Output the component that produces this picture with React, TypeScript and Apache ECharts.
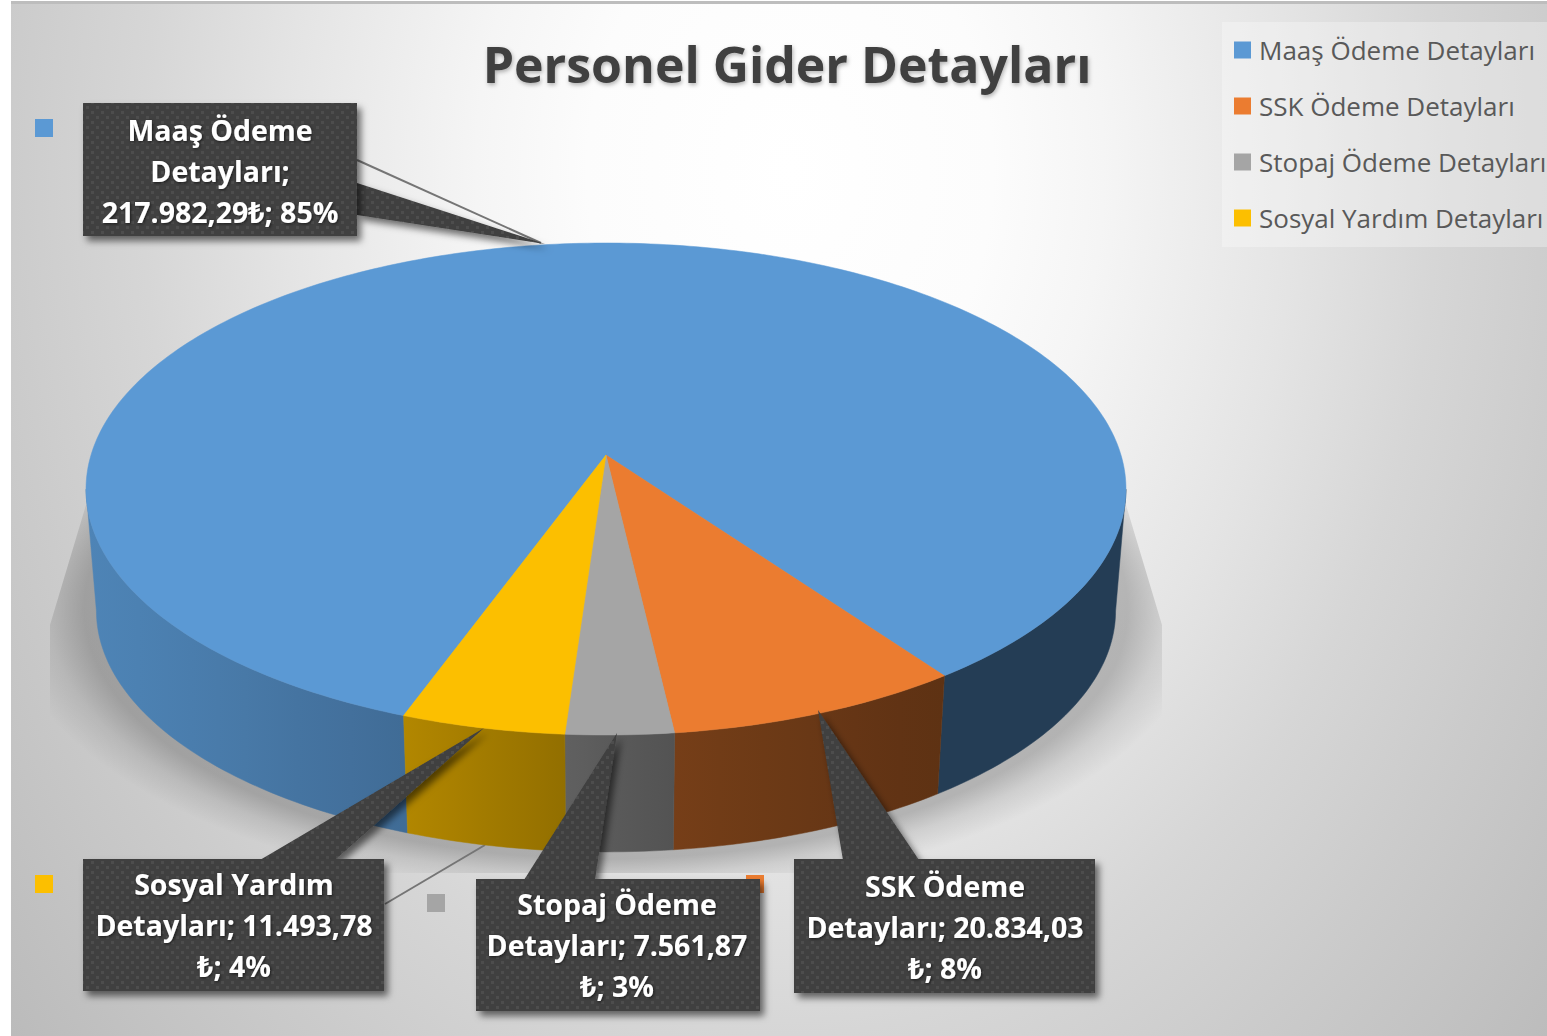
import React, { useEffect, useRef } from "react";
import * as echarts from "echarts";

const titleText = "Personel Gider Detayları";
const categories = ["Maaş Ödeme Detayları", "SSK Ödeme Detayları", "Stopaj Ödeme Detayları", "Sosyal Yardım Detayları"];
const values = [217982.29, 20834.03, 7561.87, 11493.78];
const labelLines = [
  ["Maaş Ödeme", "Detayları;", "217.982,29₺; 85%"],
  ["SSK Ödeme", "Detayları; 20.834,03", "₺; 8%"],
  ["Stopaj Ödeme", "Detayları; 7.561,87", "₺; 3%"],
  ["Sosyal Yardım", "Detayları; 11.493,78", "₺; 4%"],
];
const colors = ["#5B99D4", "#EB7C30", "#A5A5A5", "#FCBF00"];

const W = 1547;
const H = 1036;
const FONT = '"Open Sans", "Noto Sans", sans-serif';

// projection of the tilted disc
const CX = 606;
const A = 515;
const B = 241.3;
const P = 0.1382;
const TOP_CY = 455;
const BOT_CY = 577.5;
const BOT_S = 0.98;
const START = 200.0;
const SIDE_MIN = 98;
const SIDE_MAX = 262;

const total = values.reduce((s, v) => s + v, 0);
const spans: [number, number][] = [];
{
  let a = START;
  values.forEach((v) => {
    const d = (v / total) * 360;
    spans.push([a, a + d]);
    a += d;
  });
}

function proj(deg: number, bottom: boolean): number[] {
  const r = (deg * Math.PI) / 180;
  const u = Math.sin(r);
  const v = -Math.cos(r);
  const s = bottom ? BOT_S : 1;
  const c = bottom ? BOT_CY : TOP_CY;
  const d = 1 - P * v;
  return [CX + (s * A * u) / d, c + (s * B * v) / d];
}

function arc(a: number, b: number, bottom: boolean): number[][] {
  const n = Math.max(2, Math.ceil(Math.abs(b - a)));
  const out: number[][] = [];
  for (let i = 0; i <= n; i++) out.push(proj(a + ((b - a) * i) / n, bottom));
  return out;
}

const shadeX = [100, 400, 565, 675, 935, 1120];
const shadeV = [0.86, 0.71, 0.58, 0.5, 0.4, 0.4];
function shade(x: number): number {
  if (x <= shadeX[0]) return shadeV[0];
  for (let i = 1; i < shadeX.length; i++) {
    if (x <= shadeX[i]) {
      return shadeV[i - 1] + ((shadeV[i] - shadeV[i - 1]) * (x - shadeX[i - 1])) / (shadeX[i] - shadeX[i - 1]);
    }
  }
  return shadeV[shadeV.length - 1];
}
function darken(hex: string, k: number): string {
  const n = parseInt(hex.slice(1), 16);
  return `rgb(${Math.round(((n >> 16) & 255) * k)},${Math.round(((n >> 8) & 255) * k)},${Math.round((n & 255) * k)})`;
}

function sideSegments(a: number, b: number): [number, number][] {
  const out: [number, number][] = [];
  [0, -360].forEach((shift) => {
    const lo = Math.max(a + shift, SIDE_MIN);
    const hi = Math.min(b + shift, SIDE_MAX);
    if (hi > lo) out.push([lo, hi]);
  });
  return out;
}

function renderSlice(i: number) {
  return () => {
    const [a, b] = spans[i];
    const children: any[] = [];
    sideSegments(a, b).forEach(([lo, hi]) => {
      const top = arc(lo, hi, false);
      const bot = arc(lo, hi, true).reverse();
      const x1 = Math.min(top[0][0], top[top.length - 1][0]);
      const x2 = Math.max(top[0][0], top[top.length - 1][0]);
      const stops: any[] = [];
      for (let k = 0; k <= 6; k++) {
        const x = x1 + ((x2 - x1) * k) / 6;
        stops.push({ offset: k / 6, color: darken(colors[i], shade(x)) });
      }
      const fill = { type: "linear", x: x1, y: 0, x2, y2: 0, global: true, colorStops: stops };
      children.push({
        type: "polygon",
        shape: { points: top.concat(bot) },
        style: { fill, stroke: fill, lineWidth: 0.5 },
      });
    });
    children.push({
      type: "polygon",
      shape: { points: [[CX, TOP_CY]].concat(arc(a, b, false)) },
      style: { fill: colors[i], stroke: colors[i], lineWidth: 0.5 },
    });
    return { type: "group", children };
  };
}

// callout layout, same order as categories
const boxes = [
  { x: 83, y: 103, w: 274, h: 133, tx: 220, ty: 171 },
  { x: 794, y: 859, w: 301, h: 134, tx: 945, ty: 927 },
  { x: 476, y: 879, w: 284, h: 132, tx: 617, ty: 945 },
  { x: 83, y: 859, w: 301, h: 132, tx: 234, ty: 925 },
];
const wedges = [
  [[357, 183], [545, 244], [357, 215]],
  [[843, 860], [818, 710], [919, 860]],
  [[524, 880], [617, 733], [595, 880]],
  [[260, 860], [484, 728], [335, 860]],
];
const keys = [
  [35, 119],
  [746, 875],
  [427, 894],
  [35, 875],
];
const leaders = [
  [[357, 160], [541, 243]],
  [[385, 904], [485, 845]],
];

function makePattern(): HTMLCanvasElement {
  const c = document.createElement("canvas");
  c.width = 10;
  c.height = 10;
  const g = c.getContext("2d")!;
  g.fillStyle = "#3f3f3f";
  g.fillRect(0, 0, 10, 10);
  g.fillStyle = "#4d4d4d";
  g.fillRect(1, 1, 3, 3);
  g.fillRect(6, 6, 3, 3);
  return c;
}

const BG_SX = 0.75;

export default function App() {
  const ref = useRef<HTMLDivElement>(null);
  useEffect(() => {
    document.body.style.margin = "0";
    const chart = echarts.init(ref.current!, undefined, { renderer: "svg" });
    const pattern = { image: makePattern(), repeat: "repeat" };
    const boxShadow = { shadowBlur: 7, shadowOffsetX: 4, shadowOffsetY: 5, shadowColor: "rgba(0,0,0,0.55)" };

    const graphic: any[] = [
      {
        type: "rect",
        z: -20,
        silent: true,
        x: 0,
        y: 0,
        scaleX: BG_SX,
        shape: { x: 11 / BG_SX, y: 2, width: (W - 11) / BG_SX, height: H - 2 },
        style: {
          fill: {
            type: "radial",
            x: 790 / BG_SX,
            y: 170,
            r: 1350,
            global: true,
            colorStops: [
              { offset: 0, color: "#ffffff" },
              { offset: 0.2, color: "#fcfcfc" },
              { offset: 0.31, color: "#f5f5f5" },
              { offset: 0.5, color: "#e4e4e4" },
              { offset: 0.64, color: "#d6d6d6" },
              { offset: 0.78, color: "#cbcbcb" },
              { offset: 1, color: "#bbbbbb" },
            ],
          },
        },
      },
      { type: "rect", z: -19, silent: true, shape: { x: 11, y: 1, width: W - 11, height: 3 }, style: { fill: "#bdbdbd" } },
      {
        type: "rect",
        z: -19,
        silent: true,
        shape: { x: 1222, y: 22, width: W - 1222, height: 225 },
        style: { fill: "rgba(255,255,255,0.3)" },
      },
      {
        type: "polygon",
        z: -18,
        silent: true,
        shape: {
          points: [
            [606, 322], [1126, 505], [1162, 625], [1206, 609], [1162, 625], [1162, 780], [1040, 873],
            [606, 873], [606, 896], [606, 873], [172, 873], [50, 780], [50, 625], [6, 609], [50, 625], [86, 505],
          ],
        },
        style: {
          fill: {
            type: "radial",
            x: 0.5,
            y: 0.5,
            r: 0.5,
            colorStops: [
              { offset: 0, color: "rgba(0,0,0,0.22)" },
              { offset: 0.87, color: "rgba(0,0,0,0.22)" },
              { offset: 0.93, color: "rgba(0,0,0,0.09)" },
              { offset: 1, color: "rgba(0,0,0,0)" },
            ],
          },
        },
      },
    ];
    leaders.forEach((l) =>
      graphic.push({
        type: "line",
        z: -10,
        silent: true,
        shape: { x1: l[0][0], y1: l[0][1], x2: l[1][0], y2: l[1][1] },
        style: { stroke: "#757575", lineWidth: 2 },
      })
    );
    keys.forEach((k, i) =>
      graphic.push({
        type: "rect",
        z: -10,
        silent: true,
        shape: { x: k[0], y: k[1], width: 18, height: 18 },
        style: { fill: colors[i] },
      })
    );
    categories.forEach((_, i) => {
      graphic.push({
        type: "polygon",
        z: 10,
        silent: true,
        shape: { points: wedges[i] },
        style: { fill: pattern, ...boxShadow },
      });
    });
    categories.forEach((_, i) => {
      const b = boxes[i];
      graphic.push({
        type: "rect",
        z: 11,
        silent: true,
        shape: { x: b.x, y: b.y, width: b.w, height: b.h },
        style: { fill: pattern, ...boxShadow },
      });
      graphic.push({
        type: "text",
        z: 12,
        silent: true,
        x: b.tx,
        y: b.ty,
        style: {
          text: labelLines[i].join("\n"),
          font: `700 28.5px ${FONT}`,
          fill: "#ffffff",
          align: "center",
          verticalAlign: "middle",
          lineHeight: 41,
          textShadowBlur: 3,
          textShadowColor: "rgba(0,0,0,0.6)",
          textShadowOffsetX: 1,
          textShadowOffsetY: 1,
        },
      });
    });

    chart.setOption({
      animation: false,
      backgroundColor: "#ffffff",
      title: {
        text: titleText,
        left: 782,
        textAlign: "center",
        top: 34,
        textStyle: {
          fontFamily: FONT,
          fontWeight: 700,
          fontSize: 50,
          color: "#404040",
          textShadowBlur: 4,
          textShadowColor: "rgba(0,0,0,0.3)",
          textShadowOffsetX: 1,
          textShadowOffsetY: 2,
        },
      },
      legend: {
        orient: "vertical",
        left: 1234,
        top: 33,
        padding: 0,
        icon: "rect",
        itemWidth: 17,
        itemHeight: 17,
        itemGap: 22,
        selectedMode: false,
        data: categories,
        textStyle: { fontFamily: FONT, fontSize: 26, color: "#595959", lineHeight: 34, height: 34, padding: [0, 0, 0, 3] },
      },
      tooltip: { show: false },
      graphic,
      series: categories.map((name, i) => ({
        type: "custom",
        name,
        coordinateSystem: "none",
        silent: true,
        z: 2,
        itemStyle: { color: colors[i] },
        data: [values[i]],
        renderItem: renderSlice(i),
      })),
    });
    return () => chart.dispose();
  }, []);
  return <div ref={ref} style={{ position: "absolute", left: 0, top: 0, width: W, height: H, overflow: "hidden" }} />;
}
